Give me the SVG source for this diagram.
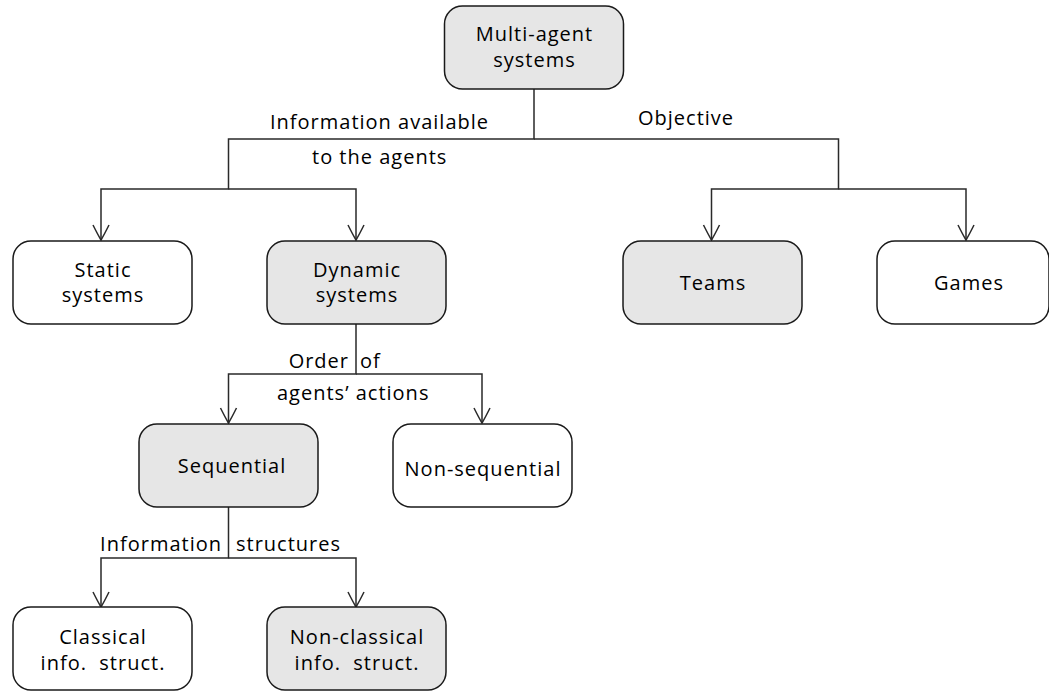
<svg xmlns="http://www.w3.org/2000/svg" width="1049" height="691" viewBox="0 0 1049 691">
<style>
.box{stroke:#1a1a1a;stroke-width:1.5}
.w{fill:#ffffff}
.g{fill:#e6e6e6}
text{font-family:"Open Sans","DejaVu Sans",sans-serif;font-size:20px;letter-spacing:1px;fill:#000;white-space:pre}
.c{text-anchor:middle}
.e{text-anchor:end}
.con{fill:none;stroke:#2a2a2a;stroke-width:1.5}
</style>
<defs>
<marker id="arr" markerUnits="userSpaceOnUse" markerWidth="20" markerHeight="20" viewBox="-16 -10 18 20" refX="0" refY="0" orient="auto">
<path d="M-15,-8 Q-5,-3 0,0 Q-5,3 -15,8" fill="none" stroke="#2a2a2a" stroke-width="1.5"/>
</marker>
</defs>
<rect width="1049" height="691" fill="#ffffff"/>
<g id="connectors">
<path class="con" d="M534,89 V139 H228.5 V189 H101 V240" marker-end="url(#arr)"/>
<path class="con" d="M228.5,189 H356 V240" marker-end="url(#arr)"/>
<path class="con" d="M534,139 H838.5 V189 H711.5 V240" marker-end="url(#arr)"/>
<path class="con" d="M838.5,189 H966 V240" marker-end="url(#arr)"/>
<path class="con" d="M356,324 V374 H228.5 V423" marker-end="url(#arr)"/>
<path class="con" d="M356,374 H482 V423" marker-end="url(#arr)"/>
<path class="con" d="M228.5,507 V558 H101 V607" marker-end="url(#arr)"/>
<path class="con" d="M228.5,558 H356 V607" marker-end="url(#arr)"/>
</g>
<g id="edge-labels">
<text x="270" y="129">Information available</text>
<text x="312" y="164">to the agents</text>
<text x="638" y="125">Objective</text>
<text class="e" x="349" y="368">Order</text>
<text x="360" y="368">of</text>
<text x="277" y="400">agents’ actions</text>
<text class="e" x="222" y="551">Information</text>
<text x="236" y="551">structures</text>
</g>
<g id="n-mas">
<rect class="box g" x="444.5" y="6" width="179" height="83" rx="18"/>
<text class="c" x="534.5" y="41">Multi-agent</text>
<text class="c" x="534.5" y="67">systems</text>
</g>
<g id="n-static">
<rect class="box w" x="13" y="241" width="179" height="83" rx="18"/>
<text class="c" x="103" y="277">Static</text>
<text class="c" x="103" y="302">systems</text>
</g>
<g id="n-dynamic">
<rect class="box g" x="267" y="241" width="179" height="83" rx="18"/>
<text class="c" x="357" y="277">Dynamic</text>
<text class="c" x="357" y="302">systems</text>
</g>
<g id="n-teams">
<rect class="box g" x="623" y="241" width="179" height="83" rx="18"/>
<text class="c" x="713" y="290">Teams</text>
</g>
<g id="n-games">
<rect class="box w" x="877" y="241" width="172" height="83" rx="18"/>
<text class="c" x="969" y="290">Games</text>
</g>
<g id="n-sequential">
<rect class="box g" x="139" y="424" width="179" height="83" rx="18"/>
<text class="c" x="232" y="473">Sequential</text>
</g>
<g id="n-nonsequential">
<rect class="box w" x="393" y="424" width="179" height="83" rx="18"/>
<text class="c" x="483" y="476">Non-sequential</text>
</g>
<g id="n-classical">
<rect class="box w" x="13" y="607" width="179" height="83" rx="18"/>
<text class="c" x="103" y="644">Classical</text>
<text class="c" x="103" y="670">info.  struct.</text>
</g>
<g id="n-nonclassical">
<rect class="box g" x="267" y="607" width="179" height="83" rx="18"/>
<text class="c" x="357" y="644">Non-classical</text>
<text class="c" x="357" y="670">info.  struct.</text>
</g>
</svg>
